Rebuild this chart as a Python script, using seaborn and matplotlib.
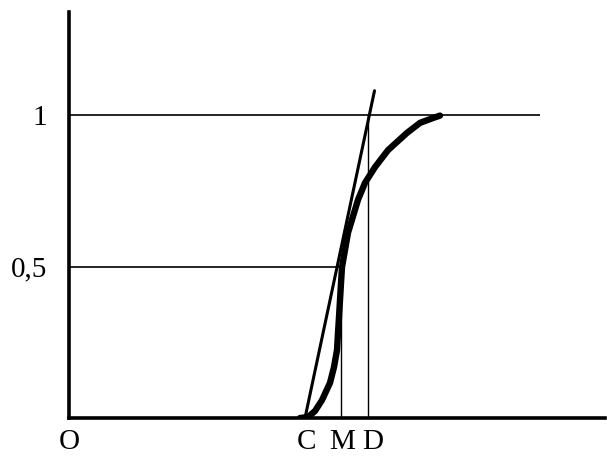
import matplotlib
matplotlib.use("Agg")
import matplotlib.pyplot as plt
import seaborn as sns
import pandas as pd

# --- data (x measured from origin O) ---
curve_x = [231, 239, 246, 253, 261, 265, 268, 269, 270, 271, 272, 273, 279, 289,
           296, 306, 319, 338, 351, 364, 371]
curve_y = [0.0, 0.003, 0.023, 0.059, 0.116, 0.168, 0.224, 0.281, 0.333, 0.389, 0.445,
           0.498, 0.611, 0.72, 0.776, 0.828, 0.884, 0.941, 0.974, 0.99, 0.998]
tangent_x = [236, 305.5]
tangent_y = [0.0, 1.08]
tick_pos = [0, 237, 273, 304]
tick_labels = ["O", "C", "M", "D"]
ytick_pos = [0.5, 1.0]
ytick_labels = ["0,5", "1"]
level_one_end = 471
level_half_end = 271
M_x = 272
D_x = 299

sns.set_style("white")
plt.rcParams['font.family'] = ['Liberation Serif', 'DejaVu Serif']

fig = plt.figure(figsize=(6.07, 4.57), dpi=100)
W, H = 607, 457
ax = fig.add_axes([69 / W, (H - 418) / H, (605 - 69) / W, (418 - 12) / H])

df_curve = pd.DataFrame({"x": curve_x, "y": curve_y})
df_tan = pd.DataFrame({"x": tangent_x, "y": tangent_y})

# reference lines
ax.hlines(1.0, 0, level_one_end, color="black", lw=1.2)
ax.hlines(0.5, 0, level_half_end, color="black", lw=1.2)
ax.vlines(M_x, 0, 0.5, color="black", lw=1.0)
ax.vlines(D_x, 0, 1.0, color="black", lw=1.0)

sns.lineplot(data=df_tan, x="x", y="y", ax=ax, color="black", lw=2.2, sort=False)
sns.lineplot(data=df_curve, x="x", y="y", ax=ax, color="black", lw=4.6, sort=False,
             solid_capstyle="round", solid_joinstyle="round")

ax.set_xlim(0, 536)
ax.set_ylim(0, 406 / 303)
ax.set_xticks(tick_pos)
ax.set_xticklabels(tick_labels)
ax.set_yticks(ytick_pos)
ax.set_yticklabels(ytick_labels)
ax.tick_params(axis="both", length=0, labelsize=21, colors="black")
ax.tick_params(axis="x", pad=8)
ax.tick_params(axis="y", pad=16)
ax.set_xlabel("")
ax.set_ylabel("")

for s in ["top", "right"]:
    ax.spines[s].set_visible(False)
for s in ["left", "bottom"]:
    ax.spines[s].set_linewidth(2.6)
    ax.spines[s].set_color("black")

fig.savefig("out.png", dpi=100)
